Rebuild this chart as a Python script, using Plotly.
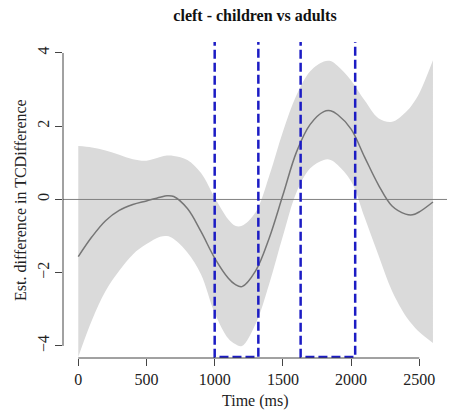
import plotly.graph_objects as go

# Data
time_ms = [0, 100, 200, 300, 400, 500, 600, 650, 700, 800, 900, 1000, 1100, 1150, 1200,
           1300, 1400, 1500, 1600, 1700, 1800, 1850, 1900, 2000, 2100, 2200, 2300, 2400,
           2450, 2500, 2600]
est = [-1.56, -1.02, -0.58, -0.30, -0.14, -0.04, 0.06, 0.10, 0.08, -0.25, -0.88, -1.60,
       -2.15, -2.32, -2.38, -1.95, -1.05, 0.12, 1.30, 2.05, 2.40, 2.42, 2.32, 1.92, 1.15,
       0.40, -0.18, -0.40, -0.42, -0.34, -0.07]
upper = [1.46, 1.42, 1.34, 1.22, 1.10, 1.06, 1.16, 1.20, 1.19, 1.08, 0.72, 0.05, -0.55,
         -0.72, -0.72, -0.35, 0.65, 1.85, 2.85, 3.50, 3.77, 3.78, 3.65, 3.25, 2.70, 2.22,
         2.12, 2.38, 2.60, 2.90, 3.80]
lower = [-4.30, -3.30, -2.50, -1.95, -1.50, -1.22, -1.02, -1.00, -1.08, -1.45, -2.05,
         -3.10, -3.80, -3.95, -4.00, -3.40, -2.30, -1.00, 0.20, 0.85, 1.08, 1.08, 0.95,
         0.50, -0.50, -1.52, -2.50, -3.18, -3.42, -3.62, -3.92]
sig_start = [1000, 1630]
sig_end = [1320, 2030]
x_ticks = [0, 500, 1000, 1500, 2000, 2500]
y_ticks = [-4, -2, 0, 2, 4]

XR = [-112, 2703]
YR = [-4.33, 4.30]
FONT = "Liberation Serif, Times New Roman, serif"

fig = go.Figure()
fig.add_trace(go.Scatter(x=time_ms, y=lower, mode="lines", line=dict(width=0, shape="spline"),
                         hoverinfo="skip", showlegend=False))
fig.add_trace(go.Scatter(x=time_ms, y=upper, mode="lines", line=dict(width=0, shape="spline"),
                         fill="tonexty", fillcolor="#dadada", hoverinfo="skip", showlegend=False))
fig.add_trace(go.Scatter(x=XR, y=[0, 0], mode="lines", line=dict(color="#808080", width=1),
                         showlegend=False))
fig.add_trace(go.Scatter(x=time_ms, y=est, mode="lines",
                         line=dict(color="#767676", width=1.5, shape="spline"), showlegend=False))
for s, e in zip(sig_start, sig_end):
    fig.add_trace(go.Scatter(x=[s, s, e, e], y=[YR[1] + 0.5, YR[0] + 0.03, YR[0] + 0.03, YR[1] + 0.5],
                             mode="lines", line=dict(color="#1c1cc4", width=2.5, dash="9px,4px"),
                             showlegend=False))

# R-style axis lines spanning first to last tick
fig.add_shape(type="line", xref="x", yref="paper", x0=x_ticks[0], x1=x_ticks[-1], y0=0, y1=0,
              line=dict(color="#444", width=1))
fig.add_shape(type="line", xref="paper", yref="y", x0=0, x1=0, y0=y_ticks[0], y1=y_ticks[-1],
              line=dict(color="#444", width=1))

fig.update_layout(
    width=451, height=412,
    margin=dict(l=63, r=4, t=42, b=54),
    plot_bgcolor="white", paper_bgcolor="white",
    font=dict(family=FONT, size=16, color="#222"),
    title=dict(text="<b>cleft - children vs adults</b>", x=0.5, xref="paper",
               y=1 - 15 / 412, yref="container", yanchor="middle", xanchor="center",
               font=dict(family=FONT, size=16, color="#111")),
    xaxis=dict(range=XR, tickvals=x_ticks, ticks="outside", ticklen=7, tickcolor="#444",
               showgrid=False, zeroline=False, showline=False),
    yaxis=dict(range=YR, tickvals=y_ticks, ticks="outside", ticklen=7, tickcolor="#444",
               tickangle=-90, showgrid=False, zeroline=False, showline=False),
    annotations=[
        dict(text="Time (ms)", xref="paper", yref="paper", x=0.5, y=(358 - 401) / 316,
             showarrow=False, xanchor="center", yanchor="middle", font=dict(size=16)),
        dict(text="Est. difference in TCDifference", xref="paper", yref="paper",
             x=(20 - 63) / 384, y=0.5, textangle=-90, showarrow=False,
             xanchor="center", yanchor="middle", font=dict(size=16)),
    ],
)
fig.write_html("out.html")
